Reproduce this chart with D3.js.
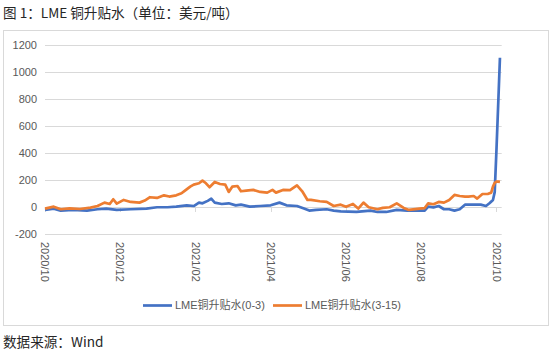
<!DOCTYPE html>
<html>
<head>
<meta charset="utf-8">
<script src="https://cdn.jsdelivr.net/npm/d3@7/dist/d3.min.js"></script>
<style>
  html, body { margin: 0; padding: 0; background: #fff; }
  svg { display: block; }
</style>
</head>
<body>
<div id="chart"></div>
<script>
// ---- data (trading-day index, value in USD/t) ----
const titleText = "图 1：LME 铜升贴水（单位：美元/吨）";
const sourceText = "数据来源：Wind";
const seriesNames = ["LME铜升贴水(0-3)", "LME铜升贴水(3-15)"];

const tickIndex = [0, 43, 86, 129, 172, 215, 258];
const tickLabels = ["2020/10", "2020/12", "2021/02", "2021/04", "2021/06", "2021/08", "2021/10"];
const yTicks = [-200, 0, 200, 400, 600, 800, 1000, 1200];

const blueIdx = [0,5,9,16,24,30,35,41,49,58,64,70,75,81,85,88,90,93,95,97,101,105,109,112,117,123,129,134,138,144,148,151,155,161,165,169,178,186,190,195,201,207,214,217,219,222,225,228,231,234,237,240,243,246,249,252,254,256,257,258,259,260];
const blueVal = [-22,-12,-27,-22,-27,-17,-12,-22,-17,-12,-2,-2,2,12,7,32,27,45,61,32,22,27,12,17,2,7,12,32,12,7,-12,-27,-22,-17,-27,-32,-37,-27,-37,-37,-22,-27,-27,-27,2,-3,7,-17,-17,-27,-17,17,17,17,17,7,27,52,110,420,760,1103];

const orangeIdx = [0,5,9,14,20,26,30,34,37,39,41,45,49,54,57,60,64,68,71,75,78,80,83,85,88,90,92,94,97,100,103,105,107,110,112,115,119,123,127,130,132,136,140,144,147,150,152,157,161,165,169,172,176,179,182,185,190,193,197,201,205,208,214,217,219,222,225,228,231,234,237,240,242,245,247,250,253,255,256,257,258,259,260];
const orangeVal = [-12,2,-17,-10,-15,-5,7,32,22,57,25,52,37,32,47,72,67,86,77,86,101,121,150,165,175,195,175,146,185,170,165,111,150,155,116,121,126,111,106,126,106,126,125,160,116,52,52,42,37,7,17,2,22,-12,32,-2,-17,-7,-2,27,-7,-22,-12,-8,27,20,37,32,52,89,81,77,77,81,62,96,96,106,150,178,187,187,185];

// ---- layout ----
const W = 554, H = 357;
const svg = d3.select("#chart").append("svg").attr("width", W).attr("height", H);

svg.append("text").attr("x", 3).attr("y", 18)
  .attr("font-family", "'Noto Sans CJK SC', sans-serif").attr("font-size", 13.6)
  .attr("fill", "#262626").text(titleText);

svg.append("rect").attr("x", 3.5).attr("y", 30.5).attr("width", 545).attr("height", 295)
  .attr("fill", "#fff").attr("stroke", "#d9d9d9").attr("stroke-width", 1);

svg.append("text").attr("x", 3).attr("y", 347)
  .attr("font-family", "'Noto Sans CJK SC', sans-serif").attr("font-size", 13.6)
  .attr("fill", "#262626").text(sourceText);

const x = d3.scaleLinear().domain([0, 261]).range([45, 501.7]);
const y = d3.scaleLinear().domain([-200, 1200]).range([234, 44.7]);

const g = svg.append("g");

// gridlines
g.selectAll("line.grid").data(yTicks).enter().append("line")
  .attr("x1", x(0)).attr("x2", x(261))
  .attr("y1", d => Math.round(y(d)) + 0.5).attr("y2", d => Math.round(y(d)) + 0.5)
  .attr("stroke", "#d9d9d9").attr("stroke-width", 1);

// y labels
g.selectAll("text.ylab").data(yTicks).enter().append("text")
  .attr("x", 37).attr("y", d => y(d)).attr("dy", "0.35em")
  .attr("text-anchor", "end")
  .attr("font-family", "'Liberation Sans', Arial, sans-serif").attr("font-size", 11)
  .attr("fill", "#595959").text(d => d);

// x tick marks at zero line
g.selectAll("line.xtick").data(tickIndex).enter().append("line")
  .attr("x1", d => Math.round(x(d)) + 0.5).attr("x2", d => Math.round(x(d)) + 0.5)
  .attr("y1", Math.round(y(0))).attr("y2", Math.round(y(0)) + 5)
  .attr("stroke", "#d9d9d9").attr("stroke-width", 1);

// x labels (rotated)
g.selectAll("text.xlab").data(tickIndex).enter().append("text")
  .attr("transform", d => `translate(${x(d)},${242}) rotate(90)`)
  .attr("dy", "0.35em")
  .attr("font-family", "'Liberation Sans', Arial, sans-serif").attr("font-size", 11)
  .attr("fill", "#595959").text((d, i) => tickLabels[i]);

const line = d3.line().x(d => x(d[0])).y(d => y(d[1]));
const blue = blueIdx.map((d, i) => [d, blueVal[i]]);
const orange = orangeIdx.map((d, i) => [d, orangeVal[i]]);

g.append("path").datum(blue).attr("d", line).attr("fill", "none")
  .attr("stroke", "#4472C4").attr("stroke-width", 2.7).attr("stroke-linejoin", "round");
g.append("path").datum(orange).attr("d", line).attr("fill", "none")
  .attr("stroke", "#ED7D31").attr("stroke-width", 2.7).attr("stroke-linejoin", "round");

// legend
const legend = [
  { name: seriesNames[0], color: "#4472C4", x0: 143 },
  { name: seriesNames[1], color: "#ED7D31", x0: 273 }
];
legend.forEach(l => {
  svg.append("line").attr("x1", l.x0).attr("x2", l.x0 + 29).attr("y1", 305.5).attr("y2", 305.5)
    .attr("stroke", l.color).attr("stroke-width", 2.7);
  svg.append("text").attr("x", l.x0 + 32).attr("y", 305.5).attr("dy", "0.35em")
    .attr("font-family", "'Liberation Sans', 'Noto Sans CJK SC', sans-serif").attr("font-size", 11)
    .attr("fill", "#595959").text(l.name);
});
</script>
</body>
</html>
